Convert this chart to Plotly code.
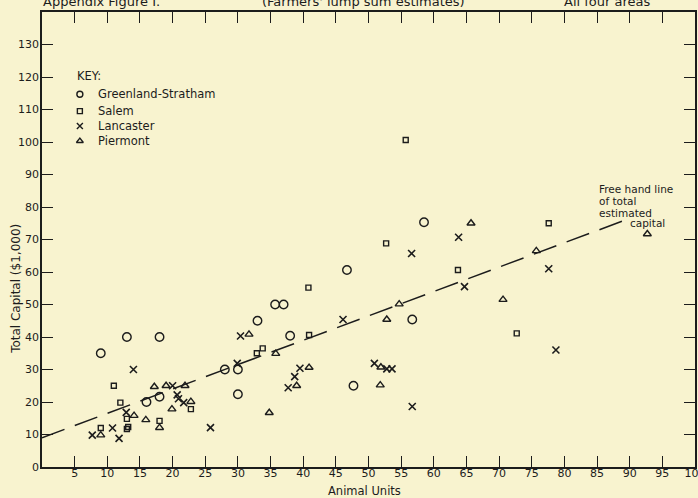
import plotly.graph_objects as go

# ---- data ----
gs_x = [9, 13, 18, 16, 18, 28, 30, 30, 33, 35.7, 37, 38, 46.7, 47.7, 56.7, 58.5]
gs_y = [35, 40, 40, 20, 21.6, 30, 30, 22.4, 45, 50, 50, 40.4, 60.6, 25, 45.4, 75.3]

salem_x = [11, 12, 22.8, 13, 9, 13, 13.2, 18, 32.9, 33.8, 40.9, 40.8, 52.7, 63.7, 55.7, 77.6, 72.7]
salem_y = [25, 19.8, 17.8, 14.8, 12, 11.7, 12.3, 14.2, 35, 36.5, 40.6, 55.2, 68.8, 60.6, 100.6, 75, 41.1]

lan_x = [14, 20, 20.7, 20.9, 21.7, 12.9, 10.8, 7.7, 11.8, 25.8, 29.9, 30.4, 39.5, 38.7, 37.7,
         46.1, 50.9, 52.8, 53.6, 56.7, 56.6, 63.8, 64.7, 77.6, 78.7]
lan_y = [30, 25, 22.2, 21, 19.8, 16.8, 12, 9.8, 8.8, 12.1, 31.9, 40.3, 30.4, 27.8, 24.4,
         45.4, 31.9, 30.2, 30.2, 18.6, 65.7, 70.7, 55.5, 61, 36]

pier_x = [17.2, 19, 21.9, 22.8, 19.9, 14.1, 15.9, 18, 9, 31.7, 35.8, 40.9, 39, 34.8, 51.9, 51.8,
          52.8, 54.7, 65.7, 75.7, 70.6, 92.7]
pier_y = [24.7, 25, 25, 20.1, 17.8, 15.8, 14.5, 12.1, 9.8, 40.8, 34.9, 30.6, 25, 16.7, 30.7, 25.2,
          45.4, 50.1, 75, 66.5, 51.5, 71.7]

line_x = [0, 90]
line_y = [9, 76.5]

x_ticks = list(range(5, 101, 5))
y_ticks = list(range(0, 131, 10))

series_names = ["Greenland-Stratham", "Salem", "Lancaster", "Piermont"]
series_symbols = ["circle-open", "square-open", "x-thin-open", "triangle-up-open"]

BG = "#F8F3CF"
INK = "#1c1c1c"
FONT = "DejaVu Sans"

fig = go.Figure()
fig.add_trace(go.Scatter(x=line_x, y=line_y, mode="lines", showlegend=False,
                         line=dict(color=INK, width=1.5, dash="24px,11px")))
series = [(gs_x, gs_y, 8.5), (salem_x, salem_y, 5), (lan_x, lan_y, 7), (pier_x, pier_y, 7)]
for (sx, sy, sz), name, sym in zip(series, series_names, series_symbols):
    fig.add_trace(go.Scatter(x=sx, y=sy, mode="markers", name=name, showlegend=False,
                             marker=dict(symbol=sym, size=sz, color=INK,
                                         line=dict(width=1.6 if sym.startswith("x") else 1.4))))

# ---- hand-drawn key (symbols + labels), as in the original figure ----
key_x = 5.8
key_y = [114.7, 109.5, 104.9, 100.3]
key_sizes = [6, 5, 6, 6]
for name, sym, ky, ks in zip(series_names, series_symbols, key_y, key_sizes):
    fig.add_trace(go.Scatter(x=[key_x], y=[ky], mode="markers", showlegend=False, hoverinfo="skip",
                             marker=dict(symbol=sym, size=ks, color=INK, line=dict(width=1.4))))

axis_common = dict(showline=True, linecolor=INK, linewidth=1.8, mirror="ticks",
                   ticks="inside", ticklen=11, tickwidth=1.3, tickcolor=INK,
                   showgrid=False, zeroline=False, ticklabeloverflow="allow", automargin=False,
                   tickfont=dict(family=FONT, size=11, color=INK))

fig.update_xaxes(range=[0, 100], tickvals=x_ticks, ticktext=[str(v) for v in x_ticks],
                 ticklabelstandoff=-5, **axis_common)
fig.update_yaxes(range=[0, 140], tickvals=y_ticks, ticktext=[str(v) for v in y_ticks],
                 ticklabelstandoff=-1, **axis_common)

annotations = []


def add_paper(text, x, y, xanchor, yanchor, size, angle=0):
    annotations.append(dict(text=text, x=x, y=y, xref="paper", yref="paper", xanchor=xanchor,
                            yanchor=yanchor, showarrow=False, textangle=angle,
                            font=dict(family=FONT, size=size, color=INK)))


add_paper("Appendix Figure I.", -0.0015, 1.0022, "left", "bottom", 13)
add_paper("(Farmers' lump sum estimates)", 0.4916, 1.0022, "center", "bottom", 13)
add_paper("All four areas", 0.865, 1.0022, "center", "bottom", 13)
add_paper("Total Capital ($1,000)", -0.041, 0.392, "center", "middle", 12, -90)
add_paper("Animal Units", 0.4946, -0.0527, "center", "middle", 11.5)


def add_data(text, x, y, size):
    annotations.append(dict(text=text, x=x, y=y, xref="x", yref="y", xanchor="left",
                            yanchor="middle", showarrow=False,
                            font=dict(family=FONT, size=size, color=INK)))


add_data("KEY:", 5.0, 120.3, 11.5)
for name, ky in zip(series_names, key_y):
    add_data(name, 8.3, ky, 11.5)

note_lines = ["Free hand line", "of total", "estimated"]
for i, t in enumerate(note_lines):
    add_data(t, 85.0, 85.6 - i * 3.7, 10.5)
add_data("capital", 89.7, 75.0, 10.5)

fig.update_layout(
    width=698, height=498,
    margin=dict(l=42, r=3, t=12, b=31, autoexpand=False),
    paper_bgcolor=BG, plot_bgcolor=BG,
    font=dict(family=FONT, size=12, color=INK),
    showlegend=False,
    annotations=annotations,
)

fig.write_html("out.html")
